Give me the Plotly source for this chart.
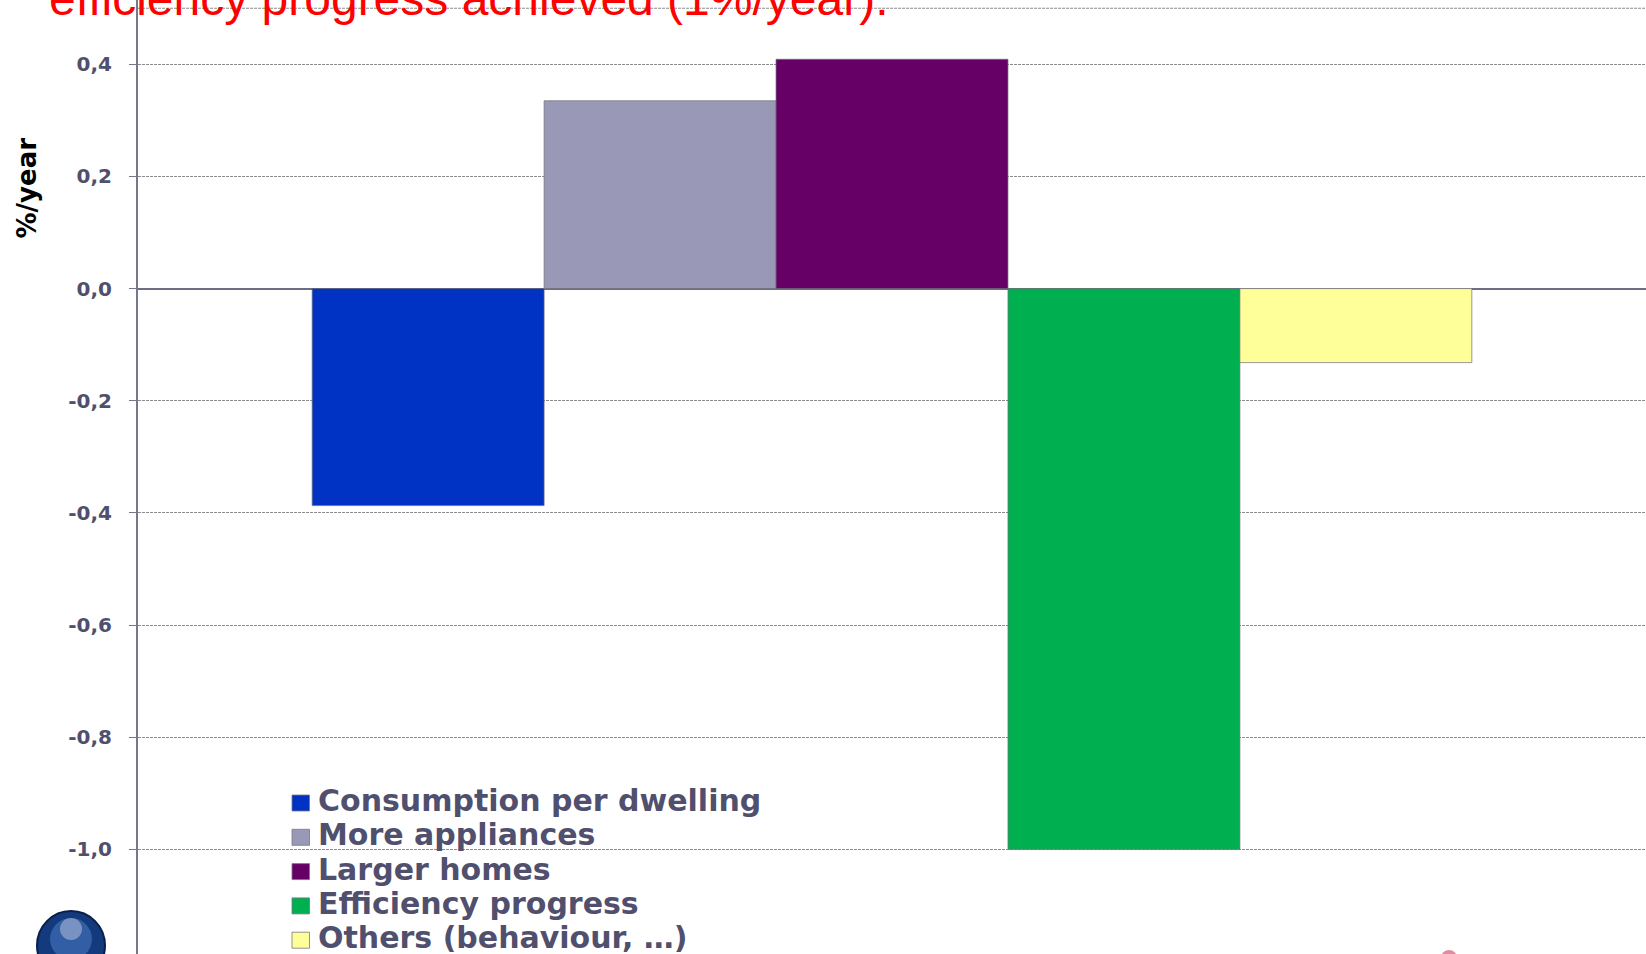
import plotly.graph_objects as go

# Decomposition of the yearly change in electricity consumption per dwelling
series_names = [
    "Consumption per dwelling",
    "More appliances",
    "Larger homes",
    "Efficiency progress",
    "Others (behaviour, …)",
]
series_values = [-0.387, 0.335, 0.409, -1.0, -0.132]
series_colors = ["#0033C4", "#9999B7", "#660066", "#00AF4F", "#FFFF99"]
category = [""]

tick_values = [-1.0, -0.8, -0.6, -0.4, -0.2, 0.0, 0.2, 0.4]
tick_labels = ["-1,0", "-0,8", "-0,6", "-0,4", "-0,2", "0,0", "0,2", "0,4"]

title_text = "efficiency progress achieved (1%/year)."
axis_title = "%/year"

# canvas geometry (pixels)
W, H = 1646, 954
LEFT = 138
PLOT_W = W - LEFT


def px(x):
    """pixel x -> paper x"""
    return (x - LEFT) / PLOT_W


def py(y):
    """pixel y (from top) -> paper y"""
    return 1 - y / H


TEXT_COLOR = "#50506E"
GRID_COLOR = "#8C8C8C"
AXIS_COLOR = "#76768C"

fig = go.Figure()
for name, val, col in zip(series_names, series_values, series_colors):
    fig.add_trace(
        go.Bar(
            x=category,
            y=[val],
            name=name,
            marker=dict(color=col, line=dict(color="rgba(110,110,120,0.7)", width=1)),
            showlegend=False,
        )
    )

shapes = []
annotations = []

# hand-built legend: coloured square + label, tightly stacked
row_top = 803.0
row_step = 34.3
for i, (name, col) in enumerate(zip(series_names, series_colors)):
    yc = row_top + i * row_step
    shapes.append(
        dict(
            type="rect", xref="paper", yref="paper",
            x0=px(292), x1=px(309.5), y0=py(yc + 8), y1=py(yc - 8),
            fillcolor=col, line=dict(color="rgba(120,120,130,0.8)", width=1),
            layer="above",
        )
    )
    annotations.append(
        dict(
            text=name, xref="paper", yref="paper",
            x=px(316), y=py(yc - 2.5), xanchor="left", yanchor="middle",
            showarrow=False,
            font=dict(family="DejaVu Sans", size=30, color=TEXT_COLOR, weight="bold"),
        )
    )

# upper frame line of the value axis
shapes.append(
    dict(
        type="line", xref="paper", yref="y", x0=0, x1=1, y0=0.5, y1=0.5,
        line=dict(color=GRID_COLOR, width=1, dash="3px,1px"), layer="below",
    )
)

# globe emblem in the lower-left corner
shapes.append(
    dict(
        type="circle", xref="paper", yref="paper",
        x0=px(37), x1=px(105), y0=py(980), y1=py(911),
        fillcolor="#123A7C", line=dict(color="#0A1F4A", width=2), layer="above",
    )
)
shapes.append(
    dict(
        type="circle", xref="paper", yref="paper",
        x0=px(50), x1=px(92), y0=py(960), y1=py(918),
        fillcolor="#3F6DB5", line=dict(width=0), opacity=0.7, layer="above",
    )
)
shapes.append(
    dict(
        type="circle", xref="paper", yref="paper",
        x0=px(60), x1=px(82), y0=py(940), y1=py(918),
        fillcolor="#A9B8D6", line=dict(width=0), opacity=0.6, layer="above",
    )
)
# small pink mark at the bottom edge
shapes.append(
    dict(
        type="circle", xref="paper", yref="paper",
        x0=px(1441), x1=px(1457), y0=py(966), y1=py(950),
        fillcolor="#E58AA0", line=dict(width=0), layer="above",
    )
)

# slide heading (partially outside the canvas)
annotations.append(
    dict(
        text=title_text, xref="paper", yref="paper",
        x=px(47), y=py(-2.0), xanchor="left", yanchor="middle",
        showarrow=False,
        font=dict(family="Liberation Sans, Arial", size=48, color="#FF0000"),
    )
)

# value-axis title
annotations.append(
    dict(
        text=axis_title, xref="paper", yref="paper",
        x=px(26.5), y=py(188), xanchor="center", yanchor="middle",
        textangle=-90, showarrow=False,
        font=dict(family="DejaVu Sans", size=26, color="#000000", weight="bold"),
    )
)

fig.update_layout(
    width=W,
    height=H,
    margin=dict(l=LEFT, r=0, t=0, b=0),
    paper_bgcolor="white",
    plot_bgcolor="white",
    barmode="group",
    bargap=0.231,
    bargroupgap=0,
    shapes=shapes,
    annotations=annotations,
    xaxis=dict(visible=False, range=[-0.5, 0.5]),
    yaxis=dict(
        range=[-1.1867, 0.5147],
        tickmode="array",
        tickvals=tick_values,
        ticktext=tick_labels,
        ticks="outside",
        ticklen=7,
        tickwidth=1,
        tickcolor=AXIS_COLOR,
        ticklabelstandoff=13,
        tickfont=dict(family="DejaVu Sans", size=20, color=TEXT_COLOR, weight="bold"),
        showgrid=True,
        gridcolor=GRID_COLOR,
        gridwidth=1,
        griddash="3px,1px",
        zeroline=True,
        zerolinecolor="#6E6E82",
        zerolinewidth=2,
        showline=True,
        linecolor=AXIS_COLOR,
        linewidth=2,
    ),
)

fig.write_html("out.html")
